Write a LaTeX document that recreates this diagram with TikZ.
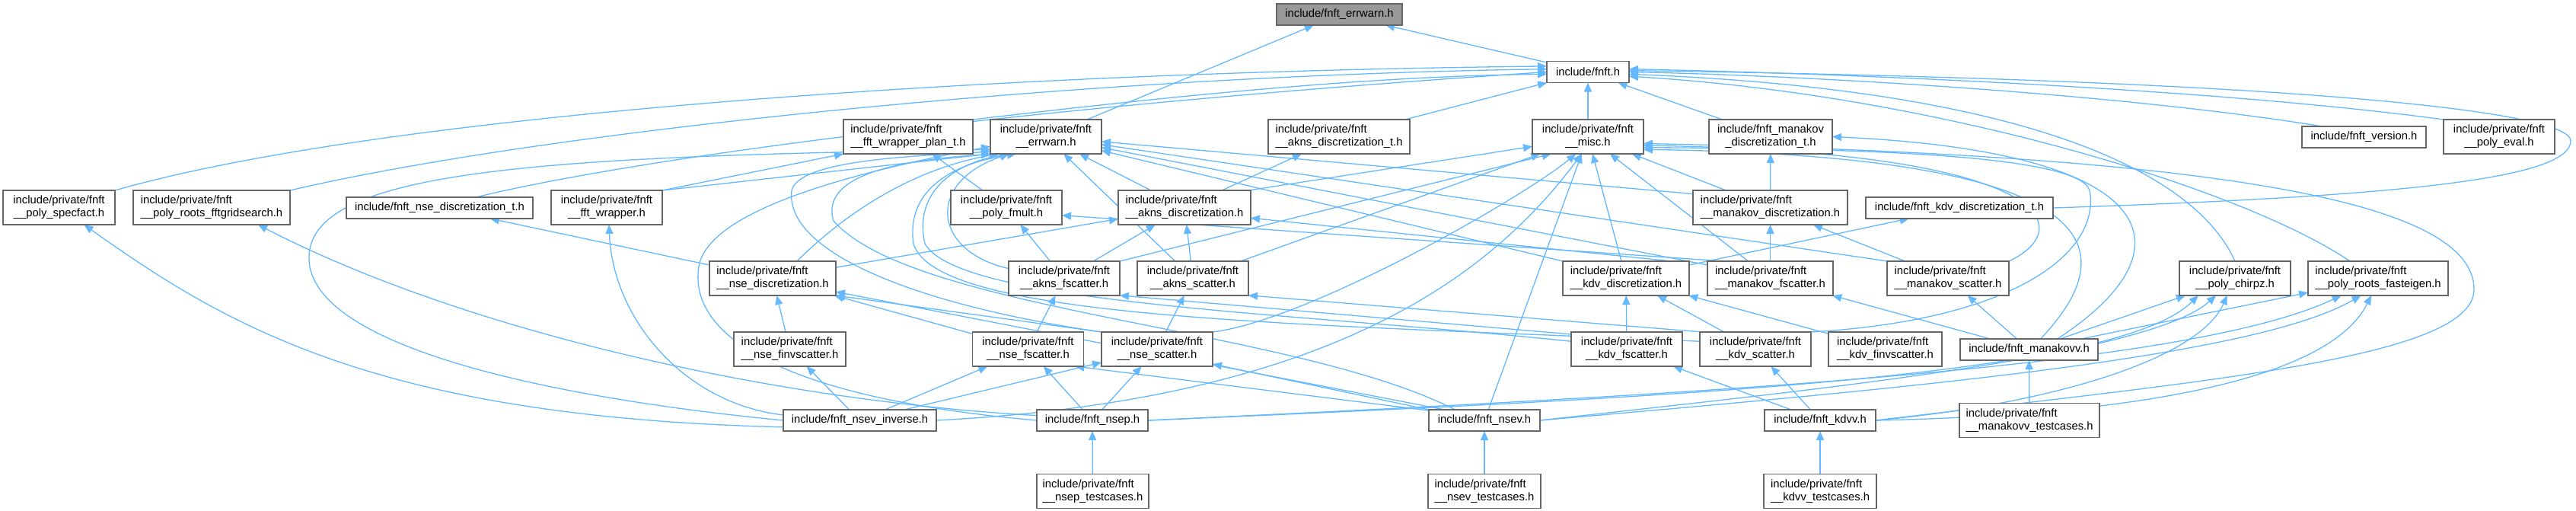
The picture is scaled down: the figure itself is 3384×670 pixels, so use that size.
\documentclass[tikz,border=0pt]{standalone}
\usepackage{fontspec}
\setmainfont{Liberation Sans}
\usetikzlibrary{arrows.meta,backgrounds}
\definecolor{edgeblue}{HTML}{63B8FF}
\definecolor{boxgray}{HTML}{666666}
\definecolor{rootfill}{HTML}{999999}
\newsavebox\twolA \newsavebox\twolB \newlength\twolW
\newcommand{\twol}[2]{\sbox\twolA{#1}\sbox\twolB{#2}%
 \setlength\twolW{\wd\twolA}\ifdim\wd\twolB>\twolW \setlength\twolW{\wd\twolB}\fi
 \vbox{\hbox to\twolW{\usebox\twolA\hfil}\hbox to\twolW{\hfil\usebox\twolB\hfil}}}
\begin{document}
\begin{tikzpicture}[x=1pt,y=-1pt,
  font=\fontsize{14.8}{17}\selectfont,
  nbox/.style={draw=boxgray, line width=1.5pt, fill=white, inner sep=0pt, outer sep=0pt, minimum height=45pt},
  nboxs/.style={nbox, minimum height=28pt},
  edg/.style={draw=edgeblue, line width=1.3pt, -{Triangle[length=12pt,width=10pt]}}]
\useasboundingbox (0,0) rectangle (3384,670);
% row 0
\node[nboxs, fill=rootfill, minimum width=165pt] (root) at (1759.5,19) {include/fnft\_errwarn.h};
\node[nboxs, minimum width=108pt] (fnft) at (2086,94.5) {include/fnft.h};
% row 1
\node[nbox, minimum width=170pt] (fftplan) at (1193,179.5) {\twol{include/private/fnft}{\_\_fft\_wrapper\_plan\_t.h}};
\node[nbox, minimum width=146pt] (EP) at (1374,179.5) {\twol{include/private/fnft}{\_\_errwarn.h}};
\node[nbox, minimum width=186pt] (aknsdt) at (1759,179.5) {\twol{include/private/fnft}{\_\_akns\_discretization\_t.h}};
\node[nbox, minimum width=146pt] (misc) at (2086,179.5) {\twol{include/private/fnft}{\_\_misc.h}};
\node[nbox, minimum width=162pt] (mandt) at (2326,179.5) {\twol{include/fnft\_manakov}{\_discretization\_t.h}};
\node[nboxs, minimum width=163pt] (version) at (3105.5,180) {include/fnft\_version.h};
\node[nbox, minimum width=146pt] (polyeval) at (3283,179.5) {\twol{include/private/fnft}{\_\_poly\_eval.h}};
% row 2
\node[nbox, minimum width=147pt] (specfact) at (77.5,272.5) {\twol{include/private/fnft}{\_\_poly\_specfact.h}};
\node[nbox, minimum width=206pt] (fftgrid) at (278,272.5) {\twol{include/private/fnft}{\_\_poly\_roots\_fftgridsearch.h}};
\node[nboxs, minimum width=245pt] (nsedt) at (577.5,273) {include/fnft\_nse\_discretization\_t.h};
\node[nbox, minimum width=146pt] (fftw) at (797,272.5) {\twol{include/private/fnft}{\_\_fft\_wrapper.h}};
\node[nbox, minimum width=146pt] (fmult) at (1322,272.5) {\twol{include/private/fnft}{\_\_poly\_fmult.h}};
\node[nbox, minimum width=174pt] (aknsd) at (1556,272.5) {\twol{include/private/fnft}{\_\_akns\_discretization.h}};
\node[nbox, minimum width=203pt] (mand) at (2325.5,272.5) {\twol{include/private/fnft}{\_\_manakov\_discretization.h}};
\node[nboxs, minimum width=246pt] (kdvdt) at (2574,273) {include/fnft\_kdv\_discretization\_t.h};
% row 3
\node[nbox, minimum width=166pt] (nsed) at (1015,365.5) {\twol{include/private/fnft}{\_\_nse\_discretization.h}};
\node[nbox, minimum width=146pt] (aknsfs) at (1398,365.5) {\twol{include/private/fnft}{\_\_akns\_fscatter.h}};
\node[nbox, minimum width=146pt] (aknss) at (1567,365.5) {\twol{include/private/fnft}{\_\_akns\_scatter.h}};
\node[nbox, minimum width=166pt] (kdvd) at (2136,365.5) {\twol{include/private/fnft}{\_\_kdv\_discretization.h}};
\node[nbox, minimum width=165pt] (manfs) at (2325.5,365.5) {\twol{include/private/fnft}{\_\_manakov\_fscatter.h}};
\node[nbox, minimum width=160pt] (mans) at (2559,365.5) {\twol{include/private/fnft}{\_\_manakov\_scatter.h}};
\node[nbox, minimum width=146pt] (chirpz) at (2936,365.5) {\twol{include/private/fnft}{\_\_poly\_chirpz.h}};
\node[nbox, minimum width=184pt] (fasteig) at (3124,365.5) {\twol{include/private/fnft}{\_\_poly\_roots\_fasteigen.h}};
% row 4
\node[nbox, minimum width=147pt] (nsefinv) at (1037.5,458.5) {\twol{include/private/fnft}{\_\_nse\_finvscatter.h}};
\node[nbox, minimum width=146pt] (nsefs) at (1350.5,458.5) {\twol{include/private/fnft}{\_\_nse\_fscatter.h}};
\node[nbox, minimum width=146pt] (nses) at (1520,458.5) {\twol{include/private/fnft}{\_\_nse\_scatter.h}};
\node[nbox, minimum width=146pt] (kdvfs) at (2137,458.5) {\twol{include/private/fnft}{\_\_kdv\_fscatter.h}};
\node[nbox, minimum width=146pt] (kdvs) at (2306,458.5) {\twol{include/private/fnft}{\_\_kdv\_scatter.h}};
\node[nbox, minimum width=149pt] (kdvfinv) at (2476.5,458.5) {\twol{include/private/fnft}{\_\_kdv\_finvscatter.h}};
\node[nboxs, minimum width=181pt] (manv) at (2665.5,459) {include/fnft\_manakovv.h};
% row 5
\node[nboxs, minimum width=201pt] (nsevinv) at (1129.5,552) {include/fnft\_nsev\_inverse.h};
\node[nboxs, minimum width=146pt] (nsep) at (1435,552) {include/fnft\_nsep.h};
\node[nboxs, minimum width=146pt] (nsev) at (1950,552) {include/fnft\_nsev.h};
\node[nboxs, minimum width=146pt] (kdvv) at (2391,552) {include/fnft\_kdvv.h};
\node[nbox, minimum width=184pt] (manvt) at (2666,552) {\twol{include/private/fnft}{\_\_manakovv\_testcases.h}};
% row 6
\node[nbox, minimum width=147pt] (nseptc) at (1435.5,645) {\twol{include/private/fnft}{\_\_nsep\_testcases.h}};
\node[nbox, minimum width=148pt] (nsevtc) at (1950,645) {\twol{include/private/fnft}{\_\_nsev\_testcases.h}};
\node[nbox, minimum width=148pt] (kdvvtc) at (2391,645) {\twol{include/private/fnft}{\_\_kdvv\_testcases.h}};

\begin{pgfonlayer}{background}
% top
\draw[edg] (EP) -- (root);
\draw[edg] (fnft) -- (root);
\draw[edg] (misc) -- (fnft);
\draw[edg] (aknsdt) -- (fnft);
\draw[edg] (mandt) -- (fnft);
\draw[edg] (fftplan.north east) .. controls (1550,125) and (1800,100) .. (fnft.183);
\draw[edg] (specfact.north east) .. controls (500,150) and (1300,95) .. (fnft.172);
\draw[edg] (fftgrid.north east) .. controls (700,175) and (1400,100) .. (fnft.176);
\draw[edg] ([xshift=48pt]nsedt.north) .. controls (760,225) and (1200,150) .. (fnft.180);
\draw[edg] ([xshift=-55pt]version.north) .. controls (2800,125) and (2400,100) .. (fnft.east);
\draw[edg] (polyeval.north west) .. controls (2900,115) and (2400,96) .. (fnft.4);
\draw[edg] (kdvdt.east) .. controls (3150,258) and (3377,235) .. (3377,185) .. controls (3377,145) and (3000,105) .. (fnft.2);
\draw[edg] (chirpz.north) .. controls (2890,240) and (2700,120) .. (fnft.-3);
\draw[edg] ([xshift=-37pt]fasteig.north) .. controls (2950,250) and (2550,125) .. (fnft.-6);
% fft
\draw[edg] (fftw.north east) -- (fftplan.south west);
\draw[edg] (fftw.north east) -- (EP.south west);
\draw[edg] (fmult) -- (fftplan);
% nse / akns
\draw[edg] (nsed) -- (nsedt);
\draw[edg] (nsed) -- (aknsd);
\draw[edg] ([xshift=32pt]nsed.north) .. controls (1090,300) and (1180,225) .. (EP.200);
\draw[edg] (nsefinv) -- (nsed);
\draw[edg] (nsefs) -- (nsed);
\draw[edg] (nses.north west) -- (nsed.south east);
\draw[edg] (nsefs) -- (aknsfs);
\draw[edg] (nses) -- (aknss);
\draw[edg] (aknsfs) -- (fmult);
\draw[edg] (aknsfs) -- (aknsd);
\draw[edg] (aknss) -- (aknsd);
\draw[edg] (aknsd) -- (aknsdt);
\draw[edg] (aknsd) -- (EP);
\draw[edg] (aknsd.15) -- (misc.190);
\draw[edg] (aknss) -- (EP);
\draw[edg] (aknss) -- (misc);
\draw[edg] (aknsfs.north east) -- (misc.205);
\draw[edg] (aknsfs.170) .. controls (1225,330) and (1215,240) .. (EP.205);
% misc
\draw[edg] (nsevinv.east) .. controls (1750,525) and (1960,360) .. (misc.250);
\draw[edg] (nsev) -- (misc);
\draw[edg] (kdvd) -- (misc);
\draw[edg] (manfs) -- (misc);
\draw[edg] (mand) -- (misc);
\draw[edg] (nses.north east) .. controls (1720,420) and (2000,260) .. (misc.235);
\draw[edg] (kdvs.north east) .. controls (2650,420) and (2760,330) .. (2745,250) .. controls (2730,200) and (2400,195) .. (misc.-11);
\draw[edg] (mans.north east) .. controls (2730,300) and (2700,200) .. (misc.-9);
\draw[edg] ([xshift=15pt]manv.north) .. controls (2790,330) and (2780,205) .. (misc.-13);
\draw[edg] ([xshift=37pt]manv.north) .. controls (2880,330) and (2850,200) .. (mandt.east);
\draw[edg] (kdvv.east) .. controls (2900,500) and (3250,470) .. (3250,380) .. controls (3250,270) and (2950,205) .. (misc.-7);
% manakov
\draw[edg] (manv) -- (mans);
\draw[edg] (manv) -- (manfs);
\draw[edg] (manv) -- (chirpz);
\draw[edg] (manv) -- (fasteig);
\draw[edg] (manvt) -- (manv);
\draw[edg] (mans) -- (mand);
\draw[edg] (manfs) -- (mand);
\draw[edg] (mand) -- (mandt);
\draw[edg] (mand.170) -- (EP.-5);
\draw[edg] (mans.north west) -- (EP.-8);
\draw[edg] (manfs.168) -- (EP.-11);
\draw[edg] (manfs.160) -- (fmult.-8);
% kdv
\draw[edg] (kdvd.north west) -- (EP.-14);
\draw[edg] ([xshift=60pt]kdvd.north) -- (aknsd.-9);
\draw[edg] (kdvd) -- (kdvdt);
\draw[edg] (kdvfs) -- (kdvd);
\draw[edg] (kdvs) -- (kdvd);
\draw[edg] (kdvfinv) -- (kdvd);
\draw[edg] (kdvfs.165) -- (aknsfs.-17);
\draw[edg] (kdvs.162) -- (aknss.-17);
\draw[edg] (kdvs.172) .. controls (1700,425) and (1230,420) .. (1200,320) .. controls (1190,250) and (1250,215) .. (EP.210);
\draw[edg] (kdvfs.172) .. controls (1700,410) and (1260,400) .. (1215,320) .. controls (1200,255) and (1250,215) .. (EP.205);
% loops to errwarn
\draw[edg] (nsev.160) .. controls (1700,430) and (1200,410) .. (1095,290) .. controls (1075,225) and (1200,208) .. (EP.200);
\draw[edg] (nses.north west) .. controls (1200,400) and (1030,330) .. (1040,250) .. controls (1050,210) and (1200,205) .. (EP.195);
\draw[edg] (nsep.west) .. controls (1000,520) and (905,430) .. (918,350) .. controls (930,280) and (1100,230) .. (EP.190);
\draw[edg] (nsevinv.west) .. controls (700,520) and (400,450) .. (406,335) .. controls (412,225) and (700,205) .. (EP.193);
% nsev_inverse / nsep
\draw[edg] (nsevinv.185) .. controls (500,548) and (300,430) .. ([xshift=33pt]specfact.south);
\draw[edg] (nsep.175) .. controls (1000,525) and (600,430) .. ([xshift=61pt]fftgrid.south);
\draw[edg] (nsevinv.176) .. controls (900,530) and (805,420) .. ([xshift=3pt]fftw.south);
\draw[edg] (nsevinv) -- (nsefinv);
\draw[edg] (nsevinv) -- (nsefs);
\draw[edg] (nsevinv) -- (nses);
\draw[edg] (nsep) -- (nsefs);
\draw[edg] (nsep) -- (nses);
\draw[edg] (nseptc) -- (nsep);
\draw[edg] (nsevtc) -- (nsev);
\draw[edg] (kdvvtc) -- (kdvv);
\draw[edg] (nsev.north west) -- (nses.-15);
\draw[edg] (nsev.170) -- (nsefs.-20);
\draw[edg] (nsev.165) -- (nsed.-12);
\draw[edg] (kdvv) -- (kdvfs);
\draw[edg] (kdvv) -- (kdvs);
% chirpz / fasteigen
\draw[edg] (nsep.east) .. controls (2200,522) and (2780,495) .. (chirpz.205);
\draw[edg] (nsev.east) .. controls (2350,515) and (2820,470) .. (chirpz.222);
\draw[edg] (kdvv.east) .. controls (2700,530) and (2890,470) .. (chirpz.245);
\draw[edg] (nsep.east) .. controls (2300,515) and (2880,480) .. (fasteig.205);
\draw[edg] (nsev.east) .. controls (2500,510) and (2960,470) .. (fasteig.225);
\draw[edg] (kdvv.east) .. controls (2800,545) and (3060,500) .. (fasteig.248);
\end{pgfonlayer}
\end{tikzpicture}
\end{document}
